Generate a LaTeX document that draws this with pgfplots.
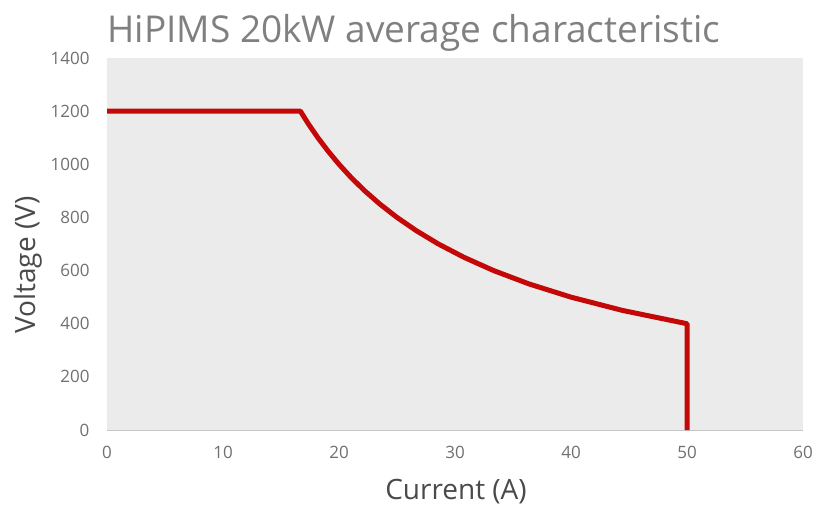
\documentclass[border=0pt]{standalone}
\usepackage{pgfplots}
\pgfplotsset{compat=1.18}
\usepackage{fontspec}
\setmainfont{Open Sans}[Ligatures=NoCommon]
\definecolor{bgray}{HTML}{EBEBEB}
\definecolor{tickgray}{HTML}{707070}
\definecolor{labgray}{HTML}{4A4A4A}
\definecolor{titlegray}{HTML}{808080}
\definecolor{lred}{HTML}{C40808}
\begin{document}
\begin{tikzpicture}[x=1pt,y=1pt]
\useasboundingbox (0,0) rectangle (816,507);
\begin{axis}[
  at={(107pt,77pt)}, anchor=south west,
  scale only axis, width=696pt, height=372pt,
  xmin=0, xmax=60, ymin=0, ymax=1400,
  xtick={0,10,...,60}, ytick={0,200,...,1400},
  axis background/.style={fill=bgray},
  axis x line*=bottom, axis y line*=left,
  x axis line style={draw=gray!45, line width=1pt, -},
  y axis line style={draw=none, -},
  major tick length=0pt,
  tick label style={font=\fontsize{17}{17}\selectfont, text=tickgray},
  /pgf/number format/assume math mode=true,
  /pgf/number format/set thousands separator={},
  xticklabel style={yshift=-13pt},
  yticklabel style={xshift=-14pt},
  clip=false,
]
\addplot[lred, line width=5pt, line join=round] coordinates {
  (0,1200) (16.67,1200) (17.39,1150) (18.18,1100) (19.05,1050) (20,1000)
  (21.05,950) (22.22,900) (23.53,850) (25,800) (26.67,750) (28.57,700)
  (30.77,650) (33.33,600) (36.36,550) (40,500) (44.44,450) (50,400) (50,0)
};
\end{axis}
\node[anchor=base, text=titlegray, font=\fontsize{37}{37}\selectfont] at (414,464) {HiPIMS 20kW average characteristic};
\node[rotate=90, text=labgray, font=\fontsize{28}{28}\selectfont] at (28,242) {Voltage (V)};
\node[text=labgray, font=\fontsize{28}{28}\selectfont] at (456,15) {Current (A)};
\end{tikzpicture}
\end{document}
